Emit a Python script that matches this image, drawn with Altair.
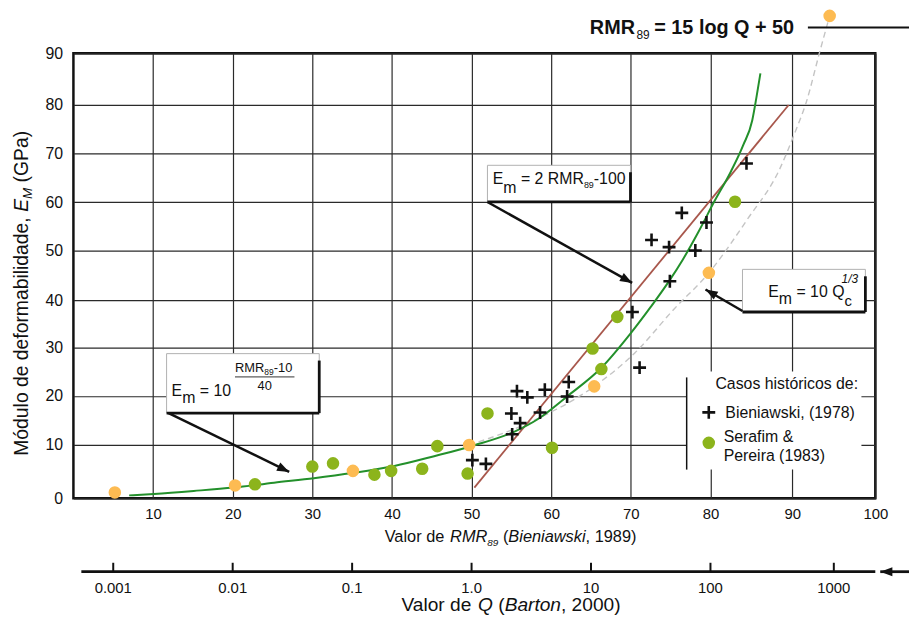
import math
import altair as alt
import numpy as np
import pandas as pd

# ---------------- data (grid units) ----------------
bien_rmr = [84.4, 76.4, 79.5, 72.6, 74.8, 78.1, 74.9, 70.2, 71.1, 62.2, 62.0, 59.2, 58.6,
            55.7, 57.0, 55.0, 56.1, 55.1, 50.1, 51.8]
bien_em = [67.9, 57.8, 55.8, 52.2, 50.7, 50.0, 43.8, 37.5, 25.9, 22.9, 19.9, 21.3, 16.6,
           21.0, 19.7, 16.4, 14.4, 12.1, 7.1, 6.4]

sp_rmr = [83.0, 68.3, 65.2, 66.3, 52.0, 60.1, 49.5, 45.7, 43.8, 39.9, 37.8, 32.6, 30.0, 22.8]
sp_em = [60.1, 36.5, 29.9, 25.6, 16.4, 9.4, 4.6, 9.7, 5.5, 5.1, 4.4, 6.5, 5.9, 2.6]

q_pts_rmr = [5.2, 20.3, 35.1, 49.7, 65.4, 79.8, 94.5]
q_pts_em = [1.1, 2.4, 5.1, 9.9, 22.0, 45.5, 97.3]

green_rmr = [7.0, 10.1, 15.1, 20.1, 25.2, 30.2, 35.2, 40.3, 45.3, 50.3, 55.4, 58.4, 62.0,
             66.3, 70.0, 72.5, 74.8, 76.5, 78.5, 80.5, 82.5, 84.0, 85.1, 85.6, 86.1]
green_em = [0.55, 0.82, 1.37, 2.0, 2.91, 3.73, 4.74, 6.01, 7.83, 9.83, 12.67, 15.31, 19.9,
            25.87, 33.1, 38.57, 43.82, 48.1, 53.9, 60.24, 66.27, 71.63, 76.71, 81.25, 86.09]

grey_rmr = [49.7, 57.4, 65.4, 70.5, 75.5, 79.8, 84.5, 88.4, 90.3, 91.7, 93.3, 94.5]
grey_em = [9.9, 14.65, 22.0, 28.97, 38.26, 45.5, 56.45, 66.57, 74.18, 80.56, 90.27, 97.3]

red_rmr = [50.35, 89.55]
red_em = [2.0, 79.9]

x_ticks = [10, 20, 30, 40, 50, 60, 70, 80, 90, 100]
y_ticks = [0, 10, 20, 30, 40, 50, 60, 70, 80, 90]
q_values = [0.001, 0.01, 0.1, 1.0, 10, 100, 1000]
q_labels = ["0.001", "0.01", "0.1", "1.0", "10", "100", "1000"]

# ---------------- layout helpers ----------------
FONT = "Liberation Sans"
INK = "#111111"
W, H = 809, 449
OX, OY = 74, 51          # page position of the plot origin
one = pd.DataFrame({"k": [0]})


def px(x):
    return x - OX


def py(y):
    return y - OY


AW = {' ': 278, '(': 333, ')': 333, ',': 278, '-': 333, '.': 278, '/': 278, ':': 278,
      '=': 584, '+': 584, '&': 667, 'B': 667, 'C': 722, 'E': 667, 'G': 778, 'M': 833,
      'P': 667, 'Q': 778, 'R': 722, 'S': 667, 'V': 667,
      'a': 556, 'b': 556, 'c': 500, 'd': 556, 'e': 556, 'f': 278, 'g': 556, 'h': 556,
      'i': 222, 'k': 500, 'l': 222, 'm': 833, 'n': 556, 'o': 556, 'r': 333, 's': 500,
      't': 278, 'u': 556, 'w': 722, 'ó': 556}


def tw(s, size):
    return sum(AW.get(c, 556) for c in s) * size / 1000.0


def txt(x, y, s, size, style="normal", weight="normal", align="left", angle=0, color=INK):
    return alt.Chart(one).mark_text(
        text=s, font=FONT, fontSize=size, fontStyle=style, fontWeight=weight,
        align=align, baseline="alphabetic", angle=angle, color=color, clip=False
    ).encode(x=alt.value(px(x)), y=alt.value(py(y)))


def run(x0, y0, pieces, rotated=False):
    out = []
    pos = y0 if rotated else x0
    for s, size, style, dy in pieces:
        lead = len(s) - len(s.lstrip(" "))
        adv = tw(" " * lead, size)
        pos = pos - adv if rotated else pos + adv
        body = s.strip(" ")
        if rotated:
            out.append(txt(x0 + dy, pos, body, size, style, angle=270))
        else:
            out.append(txt(pos, y0 + dy, body, size, style))
        w = tw(s.lstrip(" "), size)
        pos = pos - w if rotated else pos + w
    return out


def seg(x1, y1, x2, y2, w=2.5, color=INK):
    return alt.Chart(one).mark_rule(strokeWidth=w, color=color, clip=False).encode(
        x=alt.value(px(x1)), y=alt.value(py(y1)), x2=alt.value(px(x2)), y2=alt.value(py(y2)))


ARROW = "M0,0L-2,-0.75L-2,0.75Z"


def arrow(x1, y1, x2, y2, w=2.5):
    ang = math.degrees(math.atan2(y2 - y1, x2 - x1)) % 360
    head = alt.Chart(one).mark_point(
        shape=ARROW, filled=True, color=INK, opacity=1, size=150, angle=ang, clip=False
    ).encode(x=alt.value(px(x2)), y=alt.value(py(y2)))
    return [seg(x1, y1, x2, y2, w), head]


def box(x1, y1, x2, y2, fill="white", stroke="#b0b0b0", sw=1):
    return alt.Chart(one).mark_rect(fill=fill, stroke=stroke, strokeWidth=sw, clip=False).encode(
        x=alt.value(px(x1)), x2=alt.value(px(x2)), y=alt.value(py(y1)), y2=alt.value(py(y2)))


def shadow_box(x1, y1, x2, y2):
    return [box(x1, y1, x2, y2), seg(x2, y1 + 7, x2, y2, 2.8), seg(x1, y2, x2, y2, 2.8)]


# ---------------- scales and axes (grid spacing as measured on the figure) ----------------
x_scale = alt.Scale(domain=[0, 80, 90, 100], range=[0, 642.7, 725.3, 809], nice=False, zero=False)
y_scale = alt.Scale(domain=[0, 10, 20, 30, 40, 50, 60, 70, 80, 90],
                    range=[449, 394.7, 345.7, 297.3, 249.0, 199.0, 150.3, 100.7, 51.7, 0],
                    nice=False, zero=False)
x_axis = alt.Axis(values=x_ticks, title=None, grid=True, domain=False, ticks=False,
                  labelFontSize=15, labelPadding=8, labelFlush=False)
y_axis = alt.Axis(values=y_ticks, title=None, grid=True, domain=False, ticks=False,
                  labelFontSize=16, labelPadding=11, labelFlush=False)


def X(field="rmr"):
    return alt.X(f"{field}:Q", scale=x_scale, axis=x_axis)


def Y(field="em"):
    return alt.Y(f"{field}:Q", scale=y_scale, axis=y_axis)


df_b = pd.DataFrame({"rmr": bien_rmr, "em": bien_em})
df_sp = pd.DataFrame({"rmr": sp_rmr, "em": sp_em})
df_q = pd.DataFrame({"rmr": q_pts_rmr, "em": q_pts_em})
df_green = pd.DataFrame({"rmr": green_rmr, "em": green_em})
df_grey = pd.DataFrame({"rmr": grey_rmr, "em": grey_em})
df_red = pd.DataFrame({"rmr": red_rmr, "em": red_em})
df_qax = pd.DataFrame({"q": q_values, "label": q_labels})
df_qax["rmr"] = 15 * np.log10(df_qax["q"]) + 50   # RMR89 = 15 log Q + 50

CROSS = "M-1,0L1,0M0,-1L0,1"
GREEN_DOT = "#8cb41c"
ORANGE = "#fdbb52"

layers = []

# annotation boxes (white, over the grid)
layers += shadow_box(491.7, 164, 636, 201)
layers += shadow_box(168, 354, 322, 414)
layers += shadow_box(749, 269, 873, 312)
layers.append(box(693, 372, 869, 471, stroke="white", sw=0))

# curves
layers.append(alt.Chart(df_grey).mark_line(color="#c4c4c4", strokeWidth=1.4, strokeDash=[6, 4],
                                           interpolate="monotone", clip=False).encode(x=X(), y=Y()))
layers.append(alt.Chart(df_red).mark_line(color="#a8574c", strokeWidth=1.8).encode(x=X(), y=Y()))
layers.append(alt.Chart(df_green).mark_line(color="#23902b", strokeWidth=2,
                                            interpolate="monotone", clip=False).encode(x=X(), y=Y()))

# points
layers.append(alt.Chart(df_q).mark_point(shape="circle", filled=True, color=ORANGE, opacity=1,
                                         size=160, clip=False).encode(x=X(), y=Y()))
layers.append(alt.Chart(df_sp).mark_point(shape="circle", filled=True, color=GREEN_DOT, opacity=1,
                                          size=160).encode(x=X(), y=Y()))
layers.append(alt.Chart(df_b).mark_point(shape=CROSS, filled=False, color=INK, opacity=1,
                                         strokeWidth=2.6, size=169).encode(x=X(), y=Y()))

# arrows
layers += arrow(491.7, 201, 637.7, 282.7)
layers += arrow(170, 414, 291.7, 473.3)
layers += arrow(749, 311, 711.7, 289.3)

# annotation texts
layers += run(497, 183, [("E", 16, "normal", 0), ("m", 16, "normal", 9),
                         (" = 2 RMR", 16, "normal", 0), ("89", 9, "normal", 4),
                         ("-100", 16, "normal", 0)])
layers += run(173, 397, [("E", 16, "normal", 0), ("m", 16, "normal", 7),
                         (" = 10", 16, "normal", 0)])
layers += run(237, 373, [("RMR", 13, "normal", 0), ("89", 8.5, "normal", 3),
                         ("-10", 13, "normal", 0)])
layers.append(seg(237, 377.5, 297, 377.5, 1, "#333333"))
layers.append(txt(267, 391, "40", 13, align="center"))
layers += run(775, 297, [("E", 16, "normal", 0), ("m", 16, "normal", 7),
                         (" = 10 Q", 16, "normal", 0), ("c", 15, "normal", 9)])
layers.append(txt(849, 283, "1/3", 12, style="italic"))

# legend
layers.append(seg(692.7, 378, 692.7, 471, 1.5))
layers.append(txt(721.7, 390, "Casos históricos de:", 16))
layers.append(alt.Chart(one).mark_point(shape=CROSS, filled=False, color=INK, opacity=1,
                                        strokeWidth=2.6, size=169, clip=False)
              .encode(x=alt.value(px(715)), y=alt.value(py(413.3))))
layers.append(txt(731.7, 418.5, "Bieniawski, (1978)", 16))
layers.append(alt.Chart(one).mark_point(shape="circle", filled=True, color=GREEN_DOT, opacity=1,
                                        size=160, clip=False)
              .encode(x=alt.value(px(715)), y=alt.value(py(444))))
layers.append(txt(730, 443, "Serafim &", 16))
layers.append(txt(730, 462.5, "Pereira (1983)", 16))

# top relation
layers.append(txt(595, 32, "RMR", 20, weight="bold"))
layers.append(txt(642, 37, "89", 12))
layers.append(txt(660, 32, "= 15 log Q + 50", 20, weight="bold"))
layers.append(seg(815, 25, 917, 25, 2))

# axis titles
layers += run(28.5, 457, [("Módulo de deformabilidade, ", 19.5, "normal", 0),
                          ("E", 19.5, "italic", 0), ("M", 13.5, "italic", 4),
                          (" (GPa)", 19.5, "normal", 0)], rotated=True)
layers += run(388, 544, [("Valor de ", 16.5, "normal", 0), ("RMR", 16.5, "italic", 0),
                         ("89", 10, "italic", 4), (" (", 16.5, "normal", 0),
                         ("Bieniawski", 16.5, "italic", 0), (", 1989)", 16.5, "normal", 0)])

# Q axis (RMR89 = 15 log Q + 50)
layers.append(seg(82, 574, 883, 574, 2.8))
layers.append(alt.Chart(df_qax).mark_rule(strokeWidth=2, color=INK, clip=False).encode(
    x=X(), y=alt.value(py(565)), y2=alt.value(py(574))))
layers.append(alt.Chart(df_qax).mark_text(font=FONT, fontSize=15, color=INK, align="center",
                                          baseline="alphabetic", clip=False).encode(
    x=X(), y=alt.value(py(595.5)), text="label:N"))
layers += arrow(917, 574, 888, 574, 2.8)
layers += run(405, 614, [("Valor de ", 19.3, "normal", 0), ("Q", 19.3, "italic", 0),
                         (" (", 19.3, "normal", 0), ("Barton", 19.3, "italic", 0),
                         (", 2000)", 19.3, "normal", 0)])

chart = alt.layer(*layers).properties(
    width=W, height=H,
    autosize=alt.AutoSizeParams(type="none"),
    padding={"left": 66, "top": 43, "right": 34, "bottom": 115},
    background="white",
).configure_view(
    stroke=INK, strokeWidth=2.5
).configure_axis(
    gridColor="#2a2a2a", gridWidth=1.2, gridOpacity=1,
    labelFont=FONT, labelColor=INK
)

chart.save("out.html", embed_options={"renderer": "svg", "actions": False})
